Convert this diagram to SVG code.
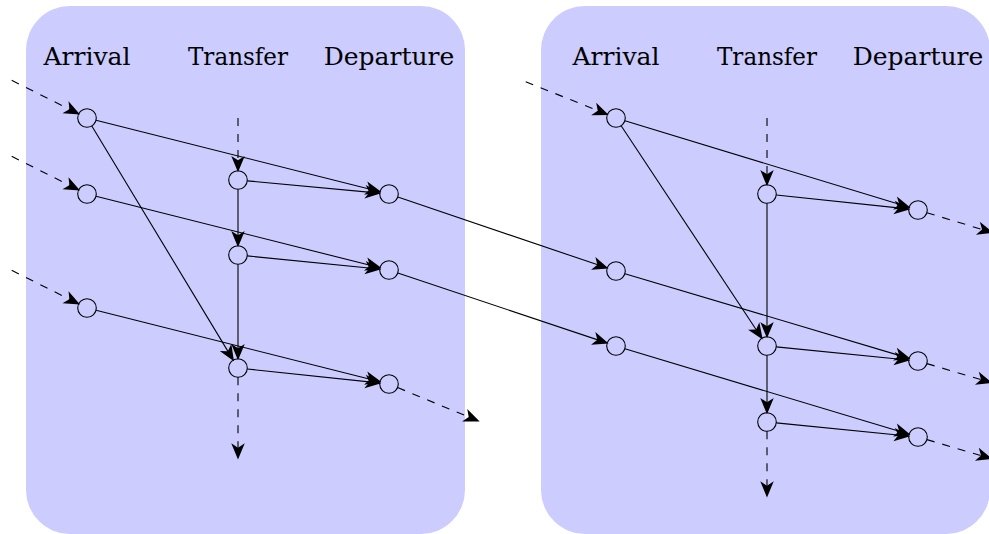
<svg xmlns="http://www.w3.org/2000/svg" width="989" height="534" viewBox="0 0 989 534">
  <style>
    .panel { fill: #ccccff; }
    .node { fill: none; stroke: #000; stroke-width: 1.1; }
    .lbl { font-family: "DejaVu Serif", "Liberation Serif", serif; font-size: 25px; fill: #000; text-anchor: middle; }
    .e { fill: none; stroke: #000; stroke-width: 1.1; marker-end: url(#stealth); }
    .d { stroke-dasharray: 8 8; }
  </style>
  <defs>
    <marker id="stealth" markerUnits="userSpaceOnUse" markerWidth="20" markerHeight="20" refX="0" refY="0" viewBox="-8 -7 16 14" orient="auto" overflow="visible">
      <path d="M6,0 L-7,-5.4 L-3.5,0 L-7,5.4 Z" fill="#000"/>
    </marker>
  </defs>

  <!-- station panels -->
  <rect id="panel-left" class="panel" x="26" y="6" width="439" height="528" rx="44" ry="44"/>
  <rect id="panel-right" class="panel" x="541" y="6" width="449" height="528" rx="44" ry="44"/>

  <!-- column headings -->
  <g id="headings">
    <text class="lbl" x="87" y="65">Arrival</text>
    <text class="lbl" x="238" y="65" textLength="100" lengthAdjust="spacingAndGlyphs">Transfer</text>
    <text class="lbl" x="389" y="65">Departure</text>
    <text class="lbl" x="616" y="65">Arrival</text>
    <text class="lbl" x="767" y="65" textLength="100" lengthAdjust="spacingAndGlyphs">Transfer</text>
    <text class="lbl" x="918" y="65">Departure</text>
  </g>

  <!-- connectors -->
  <g id="connectors">
    <!-- left station: incoming -->
    <path class="e d" d="M11.7,80.35 L73.32,111.16"/>
    <path class="e d" d="M11.7,156.35 L73.32,187.16"/>
    <path class="e d" d="M11.7,270.35 L73.32,301.16"/>
    <path class="e d" d="M238,118 L238,164.7"/>
    <!-- left station: internal -->
    <path class="e" d="M96.02,120.27 L374.16,190.27"/>
    <path class="e" d="M91.81,125.96 L230.09,354.90"/>
    <path class="e" d="M96.02,196.27 L374.16,266.27"/>
    <path class="e" d="M96.02,310.27 L374.16,380.27"/>
    <path class="e" d="M247.26,180.86 L373.77,192.59"/>
    <path class="e" d="M247.25,255.92 L373.78,268.49"/>
    <path class="e" d="M247.25,368.98 L373.79,382.39"/>
    <path class="e" d="M238,189.3 L238,239.7"/>
    <path class="e" d="M238,264.3 L238,352.7"/>
    <!-- left station: outgoing -->
    <path class="e d" d="M238,377.3 L238,452"/>
    <path class="e d" d="M397.59,387.56 L472.76,418.70"/>
    <!-- between stations -->
    <path class="e" d="M397.81,196.99 L601.51,266.09"/>
    <path class="e" d="M397.82,272.95 L601.49,341.14"/>
    <!-- right station: incoming -->
    <path class="e d" d="M525.7,81.7 L601.80,112.29"/>
    <path class="e d" d="M767,118 L767,178.7"/>
    <!-- right station: internal -->
    <path class="e" d="M624.90,120.71 L903.36,205.54"/>
    <path class="e" d="M621.14,125.75 L758.55,333.24"/>
    <path class="e" d="M776.25,194.98 L902.79,208.39"/>
    <path class="e" d="M767,203.3 L767,330.7"/>
    <path class="e" d="M624.91,273.66 L903.34,356.63"/>
    <path class="e" d="M776.25,346.92 L902.78,359.49"/>
    <path class="e" d="M767,355.3 L767,406.7"/>
    <path class="e" d="M624.90,348.68 L903.35,432.59"/>
    <path class="e" d="M776.25,422.92 L902.78,435.49"/>
    <!-- right station: outgoing -->
    <path class="e d" d="M767,431.3 L767,490"/>
    <path class="e d" d="M926.90,212.71 L986.26,230.75"/>
    <path class="e d" d="M926.92,363.63 L985.24,380.80"/>
    <path class="e d" d="M926.92,439.63 L985.24,456.80"/>
  </g>

  <!-- left station nodes -->
  <g id="L-A1"><circle class="node" cx="87" cy="118" r="9.3"/></g>
  <g id="L-A2"><circle class="node" cx="87" cy="194" r="9.3"/></g>
  <g id="L-A3"><circle class="node" cx="87" cy="308" r="9.3"/></g>
  <g id="L-T1"><circle class="node" cx="238" cy="180" r="9.3"/></g>
  <g id="L-T2"><circle class="node" cx="238" cy="255" r="9.3"/></g>
  <g id="L-T3"><circle class="node" cx="238" cy="368" r="9.3"/></g>
  <g id="L-D1"><circle class="node" cx="389" cy="194" r="9.3"/></g>
  <g id="L-D2"><circle class="node" cx="389" cy="270" r="9.3"/></g>
  <g id="L-D3"><circle class="node" cx="389" cy="384" r="9.3"/></g>

  <!-- right station nodes -->
  <g id="R-A1"><circle class="node" cx="616" cy="118" r="9.3"/></g>
  <g id="R-A2"><circle class="node" cx="616" cy="271" r="9.3"/></g>
  <g id="R-A3"><circle class="node" cx="616" cy="346" r="9.3"/></g>
  <g id="R-T1"><circle class="node" cx="767" cy="194" r="9.3"/></g>
  <g id="R-T2"><circle class="node" cx="767" cy="346" r="9.3"/></g>
  <g id="R-T3"><circle class="node" cx="767" cy="422" r="9.3"/></g>
  <g id="R-D1"><circle class="node" cx="918" cy="210" r="9.3"/></g>
  <g id="R-D2"><circle class="node" cx="918" cy="361" r="9.3"/></g>
  <g id="R-D3"><circle class="node" cx="918" cy="437" r="9.3"/></g>
</svg>
